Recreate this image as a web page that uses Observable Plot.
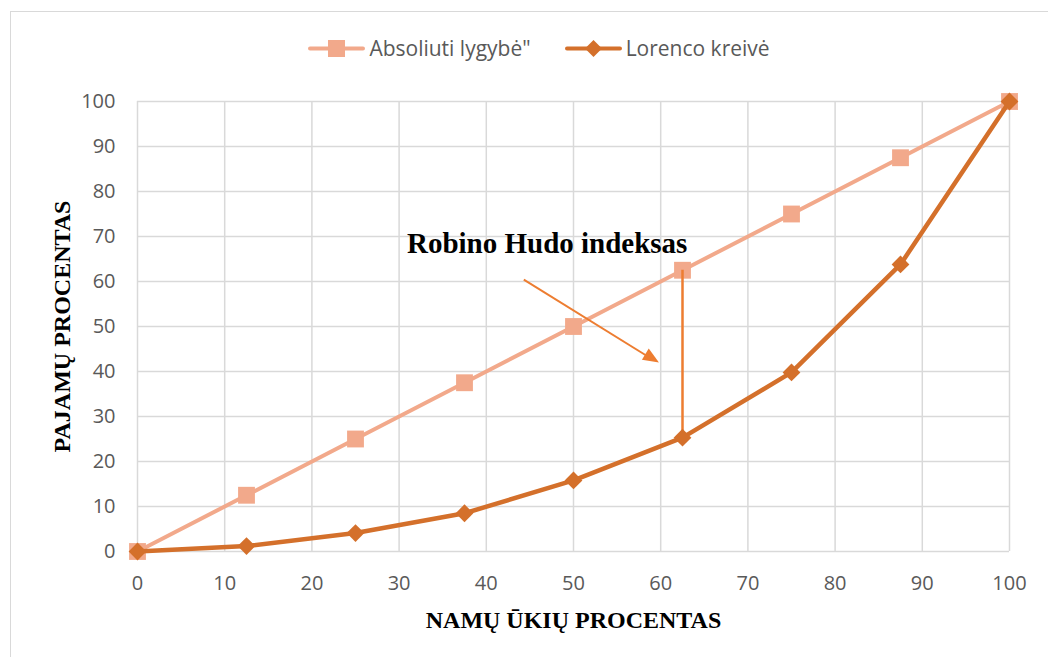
<!DOCTYPE html>
<html>
<head>
<meta charset="utf-8">
<script src="https://cdn.jsdelivr.net/npm/d3@7"></script>
<script src="https://cdn.jsdelivr.net/npm/@observablehq/plot@0.6"></script>
<style>
  html, body { margin: 0; padding: 0; background: #fff; overflow: hidden; }
  #wrap { position: relative; width: 1048px; height: 657px; }
  #frame { position: absolute; left: 10px; top: 11px; width: 1060px; height: 680px; border: 1.5px solid #d9d9d9; pointer-events: none; }
  #legend { height: 70px; display: flex; align-items: flex-end; justify-content: center; box-sizing: border-box;
            font-family: "Open Sans", sans-serif; font-size: 21px; color: #595959; padding-left: 30px; }
  .item { display: flex; align-items: center; margin: 0 17px; position: relative; top: -8px; }
  .item svg { margin-right: 4px; }
</style>
</head>
<body>
<div id="wrap">
  <div id="frame"></div>
  <div id="legend"></div>
  <div id="chart"></div>
</div>
<script>
const pct = [0, 12.5, 25, 37.5, 50, 62.5, 75, 87.5, 100];
const equality = [0, 12.5, 25, 37.5, 50, 62.5, 75, 87.5, 100];
const lorenz = [0, 1.2, 4.1, 8.5, 15.8, 25.3, 39.8, 63.8, 100];
const seriesNames = ["Absoliuti lygybė\"", "Lorenco kreivė"];
const seriesColors = ["#F2A98B", "#D4702B"];
const arrowColor = "#ED7D31";
const tickValues = [0, 10, 20, 30, 40, 50, 60, 70, 80, 90, 100];
const annotationText = ["Robino Hudo indeksas"];
const annotationPos = [{x: 30.9, y: 68.3}];
const arrowFrom = {x: 44.3, y: 60.4};
const arrowTip = {x: 59.8, y: 42.0};
const gapX = [62.5];
const gapFrom = [62.5];
const gapTo = [25.3];
const xTitle = ["NAMŲ ŪKIŲ PROCENTAS"];
const yTitle = ["PAJAMŲ PROCENTAS"];

const eqData = pct.map((x, i) => ({x, y: equality[i]}));
const lzData = pct.map((x, i) => ({x, y: lorenz[i]}));

// legend
const legend = document.getElementById("legend");
seriesNames.forEach((name, i) => {
  const item = document.createElement("div");
  item.className = "item";
  const marker = i === 0
    ? `<rect x="20" y="3" width="17" height="17" fill="${seriesColors[0]}"/>`
    : `<path d="M28.5,3 L37,11.5 L28.5,20 L20,11.5 Z" fill="${seriesColors[1]}"/>`;
  item.innerHTML = `<svg width="57" height="23"><line x1="2" x2="55" y1="11.5" y2="11.5" stroke="${seriesColors[i]}" stroke-width="4" stroke-linecap="round"/>${marker}</svg><span>${name}</span>`;
  legend.appendChild(item);
});

// filled arrowhead symbol: tip at the symbol origin, pointing along the arrow (screen angle)
const headAngle = 31.6 * Math.PI / 180;
const headSymbol = {
  draw(context) {
    const h = 16, w = 13;
    const dx = Math.cos(headAngle), dy = Math.sin(headAngle);
    const px = -dy, py = dx;
    const bx = -h * dx, by = -h * dy;
    context.moveTo(0, 0);
    context.lineTo(bx + px * w / 2, by + py * w / 2);
    context.lineTo(bx - px * w / 2, by - py * w / 2);
    context.closePath();
  }
};

const serif = "'Liberation Serif', 'Times New Roman', serif";

const plot = Plot.plot({
  width: 1048,
  height: 587,
  marginTop: 31,
  marginBottom: 106,
  marginLeft: 137,
  marginRight: 39,
  x: {domain: [0, 100]},
  y: {domain: [0, 100]},
  style: {fontFamily: "'Open Sans', sans-serif", fontSize: "20px", color: "#595959", background: "transparent"},
  marks: [
    Plot.gridX(tickValues, {stroke: "#d9d9d9", strokeOpacity: 1, strokeWidth: 1.5}),
    Plot.gridY(tickValues, {stroke: "#d9d9d9", strokeOpacity: 1, strokeWidth: 1.5}),
    Plot.axisX(tickValues, {tickSize: 0, tickPadding: 24, label: null, fill: "#595959"}),
    Plot.axisY(tickValues, {tickSize: 0, tickPadding: 22, label: null, fill: "#595959"}),
    Plot.line(eqData, {x: "x", y: "y", stroke: seriesColors[0], strokeWidth: 4}),
    Plot.dot(eqData, {x: "x", y: "y", symbol: "square", r: 9.5, fill: seriesColors[0]}),
    Plot.ruleX(gapX, {y1: gapFrom, y2: gapTo, stroke: arrowColor, strokeWidth: 2.5}),
    Plot.line(lzData, {x: "x", y: "y", stroke: seriesColors[1], strokeWidth: 4.5}),
    Plot.dot(lzData, {x: "x", y: "y", symbol: "diamond2", r: 8, fill: seriesColors[1]}),
    Plot.link([arrowFrom], {x1: "x", y1: "y", x2: () => arrowTip.x - 1, y2: () => arrowTip.y + 1, stroke: arrowColor, strokeWidth: 2}),
    Plot.dot([arrowTip], {x: "x", y: "y", symbol: headSymbol, r: 8, fill: arrowColor}),
    Plot.text(annotationText, {x: () => annotationPos[0].x, y: () => annotationPos[0].y, text: d => d, textAnchor: "start",
      fontFamily: serif, fontWeight: "bold", fontSize: 29, fill: "#000"}),
    Plot.text(xTitle, {frameAnchor: "bottom", text: d => d, dy: 69, lineAnchor: "middle", textAnchor: "middle",
      fontFamily: serif, fontWeight: "bold", fontSize: 24, fill: "#000"}),
    Plot.text(yTitle, {frameAnchor: "left", text: d => d, dx: -75, rotate: -90, lineAnchor: "middle", textAnchor: "middle",
      fontFamily: serif, fontWeight: "bold", fontSize: 24, fill: "#000"})
  ]
});
document.getElementById("chart").appendChild(plot);
</script>
</body>
</html>
